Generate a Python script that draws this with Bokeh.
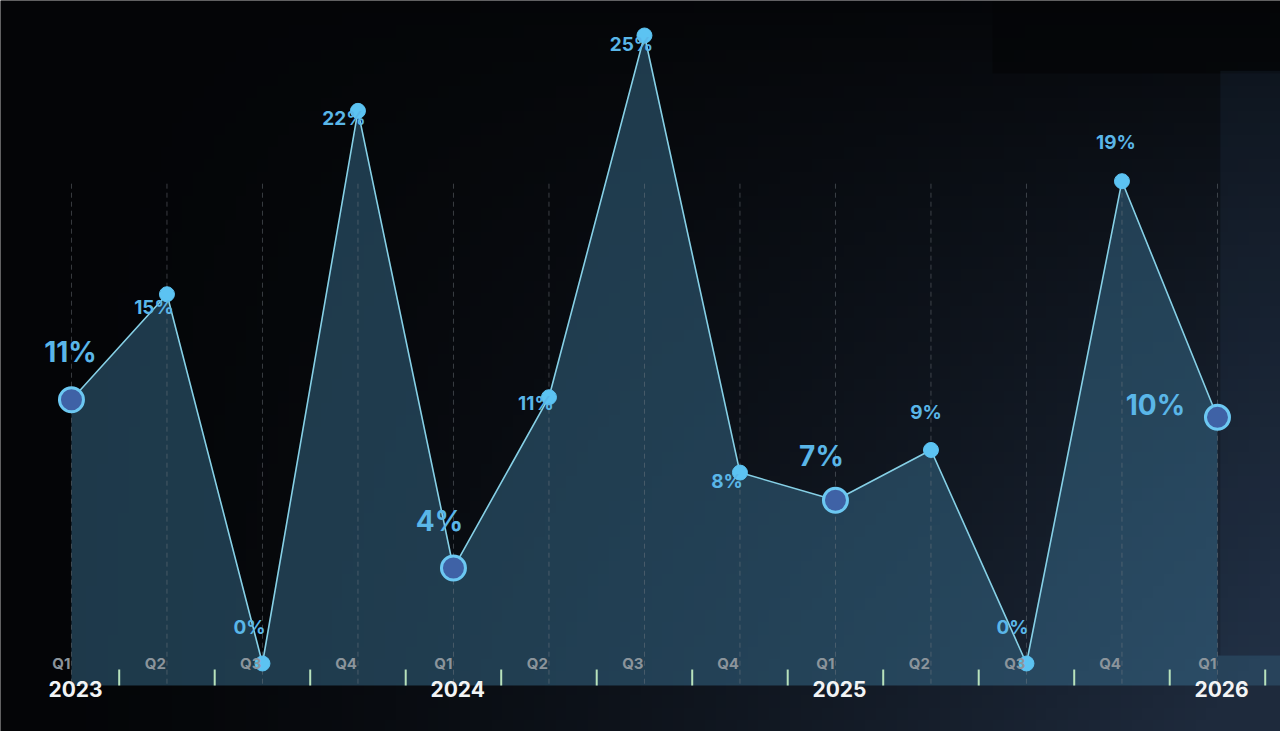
import numpy as np
from bokeh.plotting import figure
from bokeh.models import Range1d
from bokeh.core.properties import value
from bokeh.embed import file_html
from bokeh.resources import INLINE

# data (quarterly %)
quarters = ["Q1", "Q2", "Q3", "Q4", "Q1", "Q2", "Q3", "Q4", "Q1", "Q2", "Q3", "Q4", "Q1"]
years = ["2023", "2024", "2025", "2026"]
rates = [10.5, 14.7, 0.0, 22.0, 3.8, 10.6, 25.0, 7.6, 6.5, 8.5, 0.0, 19.2, 9.8]
rate_labels = ["11%", "15%", "0%", "22%", "4%", "11%", "25%", "8%", "7%", "9%", "0%", "19%", "10%"]

# label placement (pixels, relative to each point)
label_dx = [-1, -13, -13, -14, -14, -13, -13, -13, -14, -5, -14, -6, -62]
label_dy = [-48, 13, -36, 8, -47, 6, 9, 9, -44, -37, -36, -39, -12]

W, H = 1280, 731
X0, X1 = -0.743, 12.66
Y0, Y1 = -2.707, 26.393
BASE = -0.876

p = figure(width=W, height=H, x_range=Range1d(X0, X1), y_range=Range1d(Y0, Y1),
           output_backend="svg", toolbar_location=None, min_border=0,
           x_axis_type=None, y_axis_type=None)
p.outline_line_color = None
p.grid.visible = False
p.background_fill_color = "#040506"
p.border_fill_color = "#040506"

# background gradient: black top-left -> navy bottom-right
gh, gw = 60, 120
u = np.linspace(0, 1, gw)[None, :]
v = np.linspace(0, 1, gh)[:, None]  # 0 = bottom
w = np.clip((u ** 1.5) * (1 - v) ** 0.8 * 1.05 + u * 0.05, 0, 1)
w = np.where((v > 0.905) & (u > 0.78), w * 0.3, w)
c0 = np.array([4, 5, 7])
c1 = np.array([30, 42, 60])
img = np.zeros((gh, gw), dtype=np.uint32)
view = img.view(dtype=np.uint8).reshape((gh, gw, 4))
for k in range(3):
    view[:, :, k] = (c0[k] + (c1[k] - c0[k]) * w).astype(np.uint8)
view[:, :, 3] = 255
p.image_rgba(image=[img], x=X0, y=Y0, dw=X1 - X0, dh=Y1 - Y0)

xs = list(range(len(rates)))

# slightly lighter panel at the right edge
p.quad(left=12.03, right=X1, bottom=0.32, top=23.6, fill_color="#3a5a80", fill_alpha=0.12, line_color=None)

# area + band under the axis
p.varea(x=xs, y1=[BASE] * len(xs), y2=rates, fill_color="#3b7395", fill_alpha=0.48)
p.quad(left=12, right=X1, bottom=BASE, top=0.32, fill_color="#3b7395", fill_alpha=0.35, line_color=None)

# dashed quarter guides
for x in xs:
    p.segment(x0=x, y0=19.1, x1=x, y1=BASE, line_color="#7a8088", line_alpha=0.45,
              line_width=1, line_dash="5 4")

p.line(xs, rates, line_color="#86d0e6", line_width=1.6)

# ticks between quarters
tx = [i + 0.5 for i in xs]
p.segment(x0=tx, y0=[-0.24] * len(tx), x1=tx, y1=[BASE] * len(tx), line_color="#b8e2bc", line_width=2)

big = [i for i, q in enumerate(quarters) if q == "Q1"]
small = [i for i, q in enumerate(quarters) if q != "Q1"]

p.scatter([xs[i] for i in small], [rates[i] for i in small], size=15,
          fill_color="#5cc3f2", line_color="#5cc3f2")
p.scatter([xs[i] for i in big], [rates[i] for i in big], size=24,
          fill_color="#3f62a6", line_color="#6cc8f2", line_width=3)

p.text([xs[i] for i in small], [rates[i] for i in small], text=[rate_labels[i] for i in small],
       x_offset=[label_dx[i] for i in small], y_offset=[label_dy[i] for i in small],
       text_align="center", text_baseline="middle", text_font=value("Inter"),
       text_font_style="bold", text_font_size="19px", text_color="#5ab6e8")
p.text([xs[i] for i in big], [rates[i] for i in big], text=[rate_labels[i] for i in big],
       x_offset=[label_dx[i] for i in big], y_offset=[label_dy[i] for i in big],
       text_align="center", text_baseline="middle", text_font=value("Inter"),
       text_font_style="bold", text_font_size="28px", text_color="#5ab6e8")

# quarter and year labels
p.text(xs, [0] * len(xs), text=quarters, x_offset=-1, y_offset=0,
       text_align="right", text_baseline="middle", text_font=value("Inter"),
       text_font_style="bold", text_font_size="15px", text_color="#8b949b")
p.text(big, [0] * len(big), text=years, x_offset=-23, y_offset=26,
       text_align="left", text_baseline="middle", text_font=value("Inter"),
       text_font_style="bold", text_font_size="21px", text_color="#f2f4f5")

open("out.html", "w").write(file_html(p, INLINE))
